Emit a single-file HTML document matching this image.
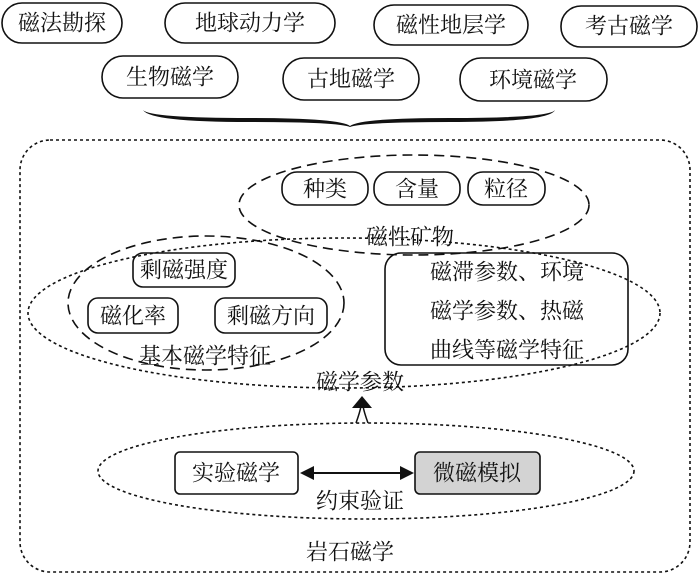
<!DOCTYPE html>
<html><head><meta charset="utf-8"><style>
body{margin:0;background:#fff}
svg text{font-family:"Liberation Serif","Noto Serif CJK SC",serif;font-size:22px;fill:#111;text-anchor:middle;dominant-baseline:central}
</style></head><body>
<svg width="700" height="575" viewBox="0 0 700 575" xmlns="http://www.w3.org/2000/svg">
<g fill="none" stroke="#111" stroke-width="1.6">
<rect x="2" y="3" width="120" height="40" rx="20"/>
<rect x="165" y="3" width="170" height="40" rx="20"/>
<rect x="374" y="5" width="154" height="40" rx="20"/>
<rect x="561" y="6" width="136" height="41" rx="20"/>
<rect x="102" y="56" width="136" height="42" rx="21"/>
<rect x="283" y="58" width="136" height="42" rx="21"/>
<rect x="460" y="58" width="147" height="43" rx="21"/>
</g>
<text x="62" y="23">磁法勘探</text>
<text x="250" y="23">地球动力学</text>
<text x="451" y="25">磁性地层学</text>
<text x="629" y="26">考古磁学</text>
<text x="170" y="77">生物磁学</text>
<text x="351" y="79">古地磁学</text>
<text x="533" y="80">环境磁学</text>
<path d="M143 110 Q150 118 250 118 Q340 118 350 126 Q360 118 450 118 Q550 118 555 110 Q550 122 450 122 Q362 122 350 127 Q338 122 250 122 Q150 122 143 110Z" fill="#111"/>
<rect x="20" y="140" width="670" height="432" rx="30" fill="none" stroke="#111" stroke-width="1.6" stroke-dasharray="3,3"/>
<ellipse cx="414" cy="205" rx="175" ry="50" fill="none" stroke="#111" stroke-width="1.6" stroke-dasharray="10,6"/>
<ellipse cx="344" cy="313" rx="316" ry="75" fill="none" stroke="#111" stroke-width="1.6" stroke-dasharray="3,3"/>
<ellipse cx="206" cy="303" rx="138" ry="67" fill="none" stroke="#111" stroke-width="1.6" stroke-dasharray="10,6"/>
<ellipse cx="366" cy="471" rx="268" ry="48" fill="none" stroke="#111" stroke-width="1.6" stroke-dasharray="3,3"/>
<g fill="none" stroke="#111" stroke-width="1.6">
<rect x="282" y="172" width="86" height="33" rx="15"/>
<rect x="374" y="172" width="86" height="33" rx="15"/>
<rect x="468" y="172" width="77" height="33" rx="15"/>
<rect x="133" y="253" width="102" height="34" rx="10"/>
<rect x="88" y="298" width="90" height="35" rx="10"/>
<rect x="215" y="298" width="112" height="35" rx="10"/>
<rect x="385" y="253" width="243" height="112" rx="16"/>
<rect x="175" y="452" width="123" height="42" rx="5"/>
</g>
<rect x="415" y="452" width="125" height="42" rx="5" fill="#d3d3d3" stroke="#111" stroke-width="1.6"/>
<text x="325" y="189">种类</text>
<text x="417" y="189">含量</text>
<text x="506" y="189">粒径</text>
<text x="410" y="237">磁性矿物</text>
<text x="184" y="270">剩磁强度</text>
<text x="133" y="316">磁化率</text>
<text x="271" y="316">剩磁方向</text>
<text x="205" y="356">基本磁学特征</text>
<text x="507" y="272">磁滞参数、环境</text>
<text x="507" y="311">磁学参数、热磁</text>
<text x="507" y="350">曲线等磁学特征</text>
<text x="360" y="382">磁学参数</text>
<path d="M352 408 L362 396 L372 408Z" fill="#111"/>
<path d="M356 423 Q360 412 361 406 M368 423 Q364 412 363 406" fill="none" stroke="#111" stroke-width="1.5"/>
<line x1="310" y1="473" x2="404" y2="473" stroke="#111" stroke-width="2"/>
<path d="M300 473 L314 466 L314 480Z M414 473 L400 466 L400 480Z" fill="#111"/>
<text x="236" y="473">实验磁学</text>
<text x="477" y="473">微磁模拟</text>
<text x="360" y="501">约束验证</text>
<text x="350" y="552">岩石磁学</text>
</svg>
</body></html>
